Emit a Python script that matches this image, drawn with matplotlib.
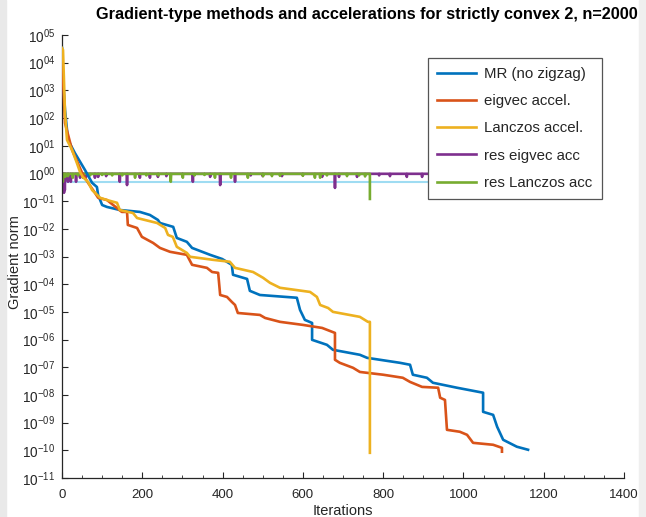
import numpy as np
import matplotlib
matplotlib.use("Agg")
import matplotlib.pyplot as plt
from matplotlib.ticker import FixedLocator, FuncFormatter, MultipleLocator
from matplotlib.patches import Rectangle

plt.rcParams['font.family'] = ['Liberation Sans', 'DejaVu Sans']
plt.rcParams['mathtext.fontset'] = 'custom'
plt.rcParams['mathtext.rm'] = 'Liberation Sans'
plt.rcParams['mathtext.it'] = 'Liberation Sans:italic'
plt.rcParams['mathtext.bf'] = 'Liberation Sans:bold'

# ---------------- data ----------------
title = "Gradient-type methods and accelerations for strictly convex 2, n=2000"
labels = ["MR (no zigzag)", "eigvec accel.", "Lanczos accel.", "res eigvec acc", "res Lanczos acc"]

mr_it = [0, 2.5, 7.5, 15, 32, 57, 75, 87, 90, 100, 112, 144, 194, 219, 239, 244, 277, 286, 311, 324,
         369, 399, 423, 426, 461, 468, 493, 585, 593, 605, 623, 623, 660, 675, 742, 760, 842, 867, 874,
         909, 924, 984, 1049, 1049, 1074, 1084, 1099, 1133, 1161]
mr_log = [4.53, 3.38, 2.29, 1.21, 0.74, 0.13, -0.34, -0.49, -0.78, -1.14, -1.21, -1.32, -1.39, -1.50,
          -1.68, -1.79, -1.93, -2.33, -2.47, -2.69, -2.94, -3.09, -3.30, -3.66, -3.81, -4.24, -4.39,
          -4.49, -4.93, -5.29, -5.40, -6.01, -6.19, -6.37, -6.55, -6.66, -6.84, -6.91, -7.27, -7.38,
          -7.56, -7.74, -7.92, -8.61, -8.72, -9.15, -9.62, -9.87, -9.98]

eig_it = [0, 5, 7.5, 25, 50, 65, 82, 90, 112, 149, 162, 164, 187, 199, 227, 244, 269, 311, 324, 361,
          374, 389, 394, 411, 423, 431, 438, 493, 506, 543, 600, 648, 680, 680, 692, 725, 742, 800,
          849, 867, 897, 937, 942, 954, 959, 991, 1009, 1024, 1074, 1096, 1096]
eig_log = [4.10, 2.65, 1.82, 0.85, 0.02, -0.34, -0.70, -0.88, -0.96, -1.39, -1.39, -1.86, -1.97, -2.29,
           -2.51, -2.69, -2.83, -2.94, -3.30, -3.41, -3.56, -3.59, -4.39, -4.46, -4.64, -4.75, -5.04,
           -5.11, -5.22, -5.36, -5.47, -5.58, -5.76, -6.73, -6.84, -7.02, -7.17, -7.27, -7.38, -7.53,
           -7.71, -7.74, -8.10, -8.18, -9.26, -9.33, -9.44, -9.73, -9.80, -9.91, -10.05]

lan_it = [0, 2.5, 7.5, 12.5, 25, 37, 45, 52, 65, 75, 95, 112, 137, 144, 177, 187, 237, 257, 264, 276,
          286, 311, 319, 376, 418, 431, 476, 501, 518, 543, 618, 635, 643, 663, 675, 742, 762, 767, 767]
lan_log = [4.53, 4.46, 2.18, 1.21, 0.85, 0.38, 0.05, -0.13, -0.31, -0.60, -0.88, -0.96, -1.06, -1.32,
           -1.43, -1.61, -1.79, -1.97, -2.22, -2.29, -2.65, -2.87, -3.01, -3.12, -3.19, -3.41, -3.56,
           -3.77, -3.95, -4.13, -4.28, -4.46, -4.75, -4.86, -5.00, -5.18, -5.36, -5.36, -10.09]

res_base = 0.97
res_eig_last = 1096
res_eig_spike_it = [3, 5, 7, 15, 22, 35, 45, 60, 82, 90, 110, 144, 162, 194, 219, 239, 260, 300, 326,
                    369, 394, 431, 470, 500, 548, 600, 648, 680, 690, 735, 790, 817, 859, 897, 940,
                    980, 1020, 1060]
res_eig_spike_val = [0.30, 0.20, 0.25, 0.50, 0.50, 0.50, 0.70, 0.75, 0.70, 0.75, 0.80, 0.50, 0.38,
                     0.70, 0.70, 0.75, 0.80, 0.80, 0.50, 0.75, 0.38, 0.50, 0.85, 0.80, 0.80, 0.85,
                     0.75, 0.30, 0.75, 0.75, 0.85, 0.80, 0.75, 0.75, 0.80, 0.85, 0.80, 0.85]

res_lan_last = 767
res_lan_last_val = 0.12
res_lan_spike_it = [2, 8, 15, 27, 40, 52, 70, 100, 125, 150, 182, 210, 240, 271, 301, 330, 355, 381,
                    421, 463, 501, 523, 543, 600, 630, 643, 660, 710, 740, 755]
res_lan_spike_val = [0.50, 0.75, 0.80, 0.70, 0.85, 0.70, 0.85, 0.88, 0.85, 0.85, 0.70, 0.85, 0.85,
                     0.50, 0.70, 0.85, 0.88, 0.70, 0.70, 0.70, 0.80, 0.80, 0.82, 0.82, 0.70, 0.70,
                     0.85, 0.80, 0.85, 0.78]

ref_level = 0.49
ref_last = 1161

# ---------------- figure ----------------
W, H = 646, 517
fig = plt.figure(figsize=(W / 100, H / 100), dpi=100)
fig.patch.set_facecolor('white')
fig.patches.append(Rectangle((0, 0), 6 / W, 1, transform=fig.transFigure, color='#e9e9e9', zorder=0))
fig.patches.append(Rectangle((1 - 7 / W, 0), 7 / W, 1, transform=fig.transFigure, color='#efefef', zorder=0))

x0, x1 = 62, 624
y0, y1 = 35, 478
ax = fig.add_axes([x0 / W, 1 - y1 / H, (x1 - x0) / W, (y1 - y0) / H])

c_mr = (0.0, 0.447, 0.741)
c_eig = (0.85, 0.325, 0.098)
c_lan = (0.929, 0.694, 0.125)
c_pur = (0.494, 0.184, 0.556)
c_grn = (0.466, 0.674, 0.188)
c_ref = '#9fdcf2'
LW = 1.9


def spiky(base, last, sp_it, sp_val):
    xs, ys = [0], [base]
    for i, v in zip(sp_it, sp_val):
        xs += [i - 1, i, i + 1]
        ys += [base, v, base]
    xs.append(last)
    ys.append(base)
    return xs, ys


ax.plot([0, ref_last], [ref_level, ref_level], color=c_ref, lw=1.5, zorder=1)
l1, = ax.plot(mr_it, 10 ** np.array(mr_log), color=c_mr, lw=LW, zorder=3)
l2, = ax.plot(eig_it, 10 ** np.array(eig_log), color=c_eig, lw=LW, zorder=3)
l3, = ax.plot(lan_it, 10 ** np.array(lan_log), color=c_lan, lw=LW, zorder=3)
px, py = spiky(res_base, res_eig_last, res_eig_spike_it, res_eig_spike_val)
l4, = ax.plot(px, py, color=c_pur, lw=LW, zorder=2)
gx, gy = spiky(res_base, res_lan_last, res_lan_spike_it, res_lan_spike_val)
gx += [res_lan_last]
gy += [res_lan_last_val]
l5, = ax.plot(gx, gy, color=c_grn, lw=LW, zorder=2.5)

ax.set_yscale('log')
ax.set_xlim(0, 1400)
ax.set_ylim(1e-11, 1e5)
exps = list(range(-11, 6))
ax.yaxis.set_major_locator(FixedLocator([10.0 ** e for e in exps]))
ax.yaxis.set_minor_locator(FixedLocator([]))


def yfmt(v, pos):
    e = int(round(np.log10(v)))
    return r"$\mathregular{10^{%s}}$" % format(e, '03d' if e < 0 else '02d')


ax.yaxis.set_major_formatter(FuncFormatter(yfmt))
ax.xaxis.set_major_locator(MultipleLocator(200))
ax.xaxis.set_minor_locator(MultipleLocator(50))

for s in ['top', 'right']:
    ax.spines[s].set_visible(False)
for s in ['left', 'bottom']:
    ax.spines[s].set_color('#262626')
    ax.spines[s].set_linewidth(0.9)
ax.tick_params(which='both', direction='in', colors='#262626')
ax.tick_params(axis='y', labelsize=9.8, pad=5)
ax.tick_params(axis='x', labelsize=9.5, pad=8)
ax.tick_params(which='major', length=4, width=0.8)
ax.tick_params(which='minor', length=2, width=0.6)

ax.set_xlabel("Iterations", fontsize=10.5, color='#262626', labelpad=2)
ax.set_ylabel("Gradient norm", fontsize=10.5, color='#262626')
ax.yaxis.set_label_coords((22 - x0) / (x1 - x0), (y1 - 262) / (y1 - y0))

fig.text(367 / W, 1 - 14 / H, title, ha='center', va='center', fontsize=11.7,
         fontweight='bold', color='black')

leg = ax.legend([l1, l2, l3, l4, l5], labels, loc='upper left',
                bbox_to_anchor=((428 - x0) / (x1 - x0), (y1 - 58) / (y1 - y0)),
                borderaxespad=0, fontsize=10.8, handlelength=2.6, handletextpad=0.55,
                labelspacing=0.88, borderpad=0.6, frameon=True, fancybox=False,
                framealpha=1.0)
leg.get_frame().set_edgecolor('#555555')
leg.get_frame().set_linewidth(0.9)
leg.set_zorder(10)
for t in leg.get_texts():
    t.set_color('#262626')

fig.savefig("out.png", dpi=100, facecolor=fig.get_facecolor())
